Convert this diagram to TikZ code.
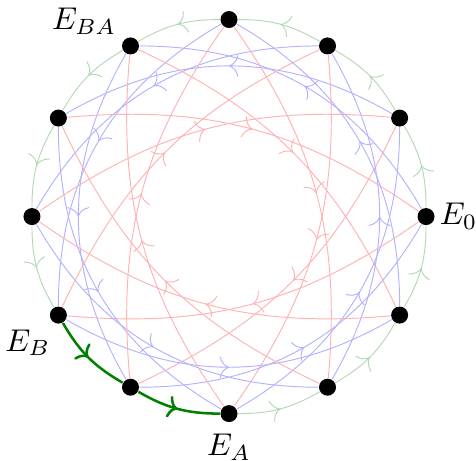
\documentclass[tikz,border=0pt]{standalone}
\usetikzlibrary{positioning,arrows.meta,decorations.markings}

\begin{document}
\begin{tikzpicture}[
    vertex/.style={circle, fill=black, inner sep=0pt, minimum size=5.4pt},
    mid/.style={postaction={decorate}, decoration={markings, mark=at position 0.5 with {\arrow{To[length=3pt,width=7pt]}}}},
    gedge/.style={green!50!black!30, line width=0.3pt, mid},
    bedge/.style={blue!30, line width=0.3pt, mid},
    redge/.style={red!30, line width=0.3pt, mid},
    walk/.style={green!50!black, thick, mid}
  ]
  \useasboundingbox (-2.557,-2.719) rectangle (2.758,2.418);
  \foreach \i in {0,...,11}
    \node[vertex] (E\i) at (\i*30:2.2) {};

  \foreach \i in {0,...,11} {
    \pgfmathtruncatemacro{\gnext}{mod(\i+1,12)}
    \pgfmathtruncatemacro{\bnext}{mod(\i+4,12)}
    \pgfmathtruncatemacro{\rnext}{mod(\i+7,12)}
    \draw[redge] (E\i) to[bend left=20] (E\rnext);
    \draw[bedge] (E\i) to[bend right=30] (E\bnext);
    \draw[gedge] (E\i) to[bend right=15] (E\gnext);
  }

  \draw[walk] (E7) to[bend right=15] (E8);
  \draw[walk] (E8) to[bend right=15] (E9);

  \node[right=-2pt of E0] (l0) {$E_0$};
  \node[below=0pt of E9] (lA) {$E_A$};
  \node[below left=-1pt and -3pt of E7] (lB) {$E_B$};
  \node[above left=-2pt and -1pt of E4] (lBA) {$E_{BA}$};
\end{tikzpicture}
\end{document}
